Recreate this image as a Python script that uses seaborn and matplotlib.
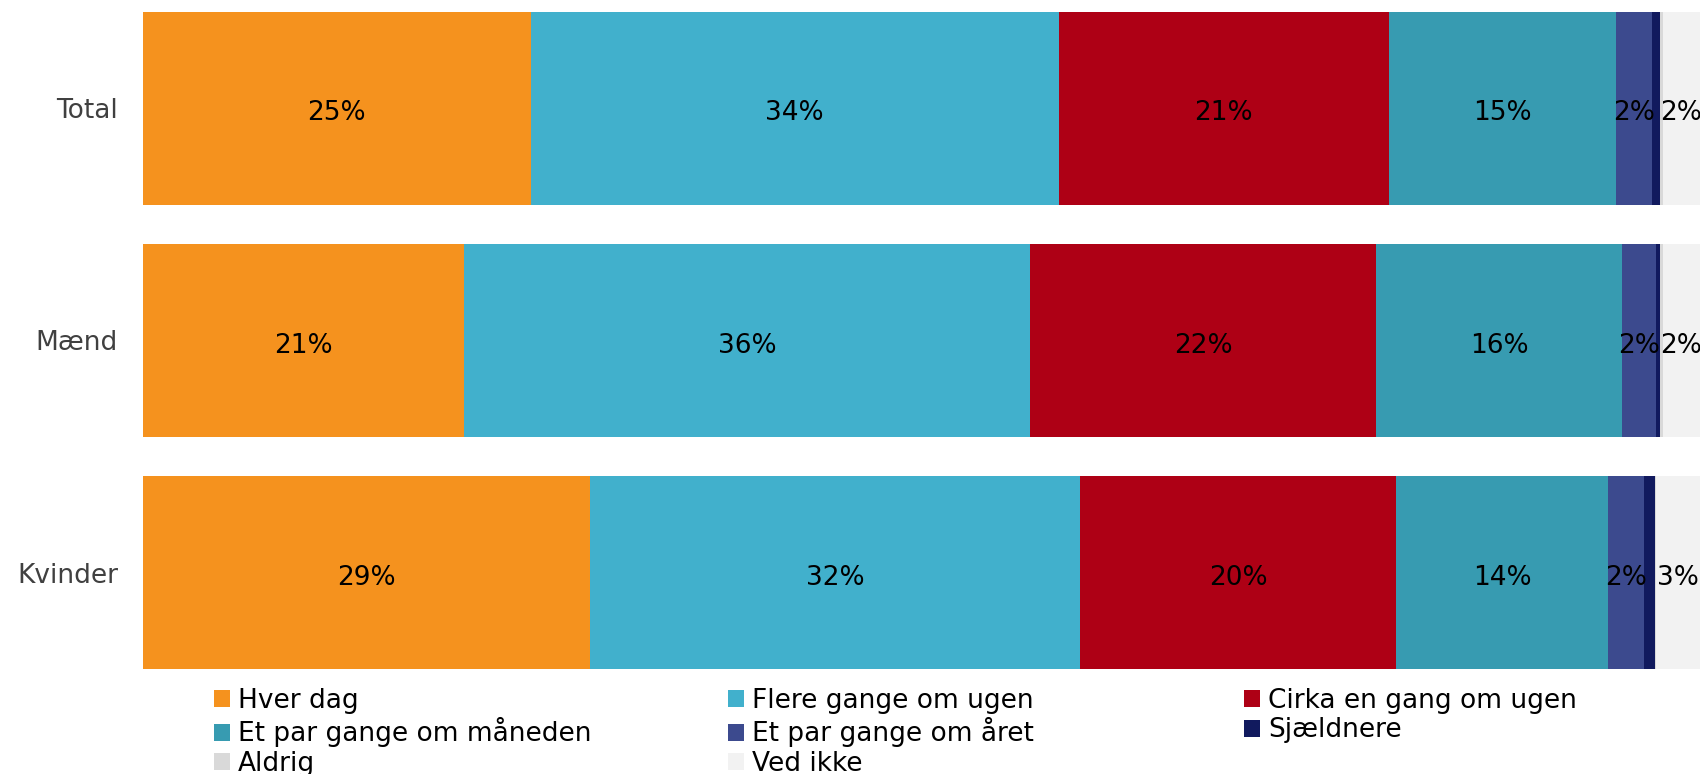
import numpy as np
import pandas as pd
import matplotlib
matplotlib.use("Agg")
import matplotlib.pyplot as plt
from matplotlib.patches import Patch
import seaborn as sns

sns.set_style("white")
plt.rcParams['font.family'] = ['DejaVu Sans']

# data
groups = ["Total", "Mænd", "Kvinder"]
series = ["Hver dag", "Flere gange om ugen", "Cirka en gang om ugen",
          "Et par gange om måneden", "Et par gange om året", "Sjældnere",
          "Aldrig", "Ved ikke"]
hver_dag = [24.9, 20.6, 28.7]
flere_gange = [33.9, 36.4, 31.5]
cirka_ugen = [21.2, 22.2, 20.3]
par_maaned = [14.6, 15.8, 13.6]
par_aaret = [2.3, 2.2, 2.3]
sjaeldnere = [0.5, 0.2, 0.7]
aldrig = [0.2, 0.2, 0.1]
ved_ikke = [2.4, 2.4, 2.8]
colors = ["#F5921E", "#41B0CC", "#AE0015", "#379BB1",
          "#3C4A8E", "#111A5E", "#D9D9D9", "#F2F2F2"]

values = [hver_dag, flere_gange, cirka_ugen, par_maaned,
          par_aaret, sjaeldnere, aldrig, ved_ikke]

# long format with cumulative ends for stacking
rows = []
cum = np.zeros(len(groups))
for name, vals in zip(series, values):
    vals = np.array(vals)
    cum = cum + vals
    for g, v, c in zip(groups, vals, cum):
        rows.append({"group": g, "series": name, "value": v, "cum": c})
df = pd.DataFrame(rows)

fig = plt.figure(figsize=(17, 7.74), dpi=100)
ax = fig.add_axes([143/1700, 1-669/774, 1-143/1700, (669-12)/774])

pal = dict(zip(series, colors))
sns.barplot(data=df, y="group", x="cum", hue="series", hue_order=series[::-1],
            order=groups, palette=pal, dodge=False, width=0.83, orient="h",
            saturation=1, linewidth=0, errorbar=None, legend=False, ax=ax)

# labels in the middle of each segment
for _, r in df.iterrows():
    if r["value"] >= 1:
        ax.text(r["cum"] - r["value"]/2, groups.index(r["group"]) + 0.022,
                f"{r['value']:.0f}%", ha="center", va="center",
                fontsize=19, color="black")

ax.set_xlim(0, 100)
ax.set_ylim(2.415, -0.415)
ax.set_xlabel("")
ax.set_ylabel("")
ax.set_xticks([])
ax.tick_params(axis="y", length=0, pad=18, labelsize=19, labelcolor="#404040")
sns.despine(ax=ax, left=True, bottom=True)

# legend, three fixed-width columns
handles = [Patch(facecolor=c, edgecolor="none") for c in colors]
col_idx = [[0, 3, 6], [1, 4, 7], [2, 5]]
col_x = [214, 728, 1244]
for idx, x0 in zip(col_idx, col_x):
    leg = fig.legend([handles[i] for i in idx], [series[i] for i in idx],
                     loc="upper left", bbox_to_anchor=(x0/1700, 1-688/774),
                     frameon=False, fontsize=19, handlelength=0.6,
                     handleheight=0.6, handletextpad=0.3, labelspacing=0.13,
                     borderpad=0, borderaxespad=0)
    for t in leg.get_texts():
        t.set_color("black")

fig.savefig("out.png", dpi=100)
